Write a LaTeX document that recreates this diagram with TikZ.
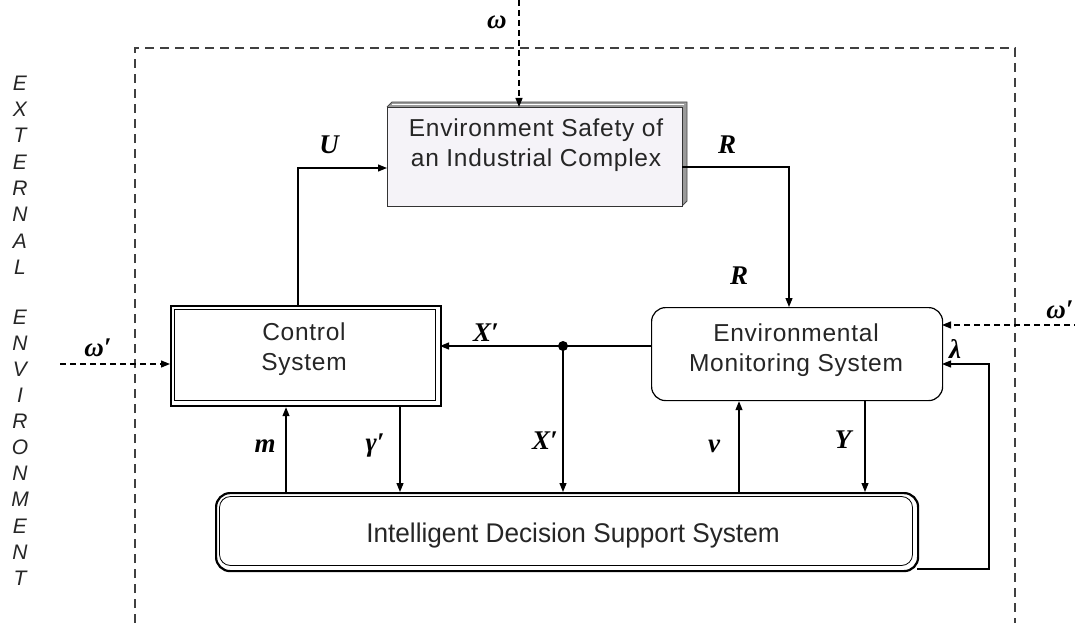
\documentclass[tikz,border=0pt]{standalone}
\usepackage{fontspec}
\setmainfont{Liberation Sans}
\newfontfamily\lblfont{Liberation Serif}
\newfontfamily\boxfont[LetterSpace=3]{Liberation Sans}
\usetikzlibrary{arrows.meta,calc}
\definecolor{boxfill}{HTML}{F5F3F8}
\definecolor{sidegray}{HTML}{9A9A9A}
\tikzset{
  conn/.style={line width=1.2pt,-{Triangle[length=9pt,width=7pt]}},
  dconn/.style={line width=1.2pt,dash pattern=on 6pt off 4pt,-{Triangle[length=9pt,width=7pt]}},
  frame/.style={line width=1.2pt,dash pattern=on 9pt off 6pt,draw=black!75},
  lbl/.style={font=\lblfont\bfseries\itshape\fontsize{27}{27}\selectfont,inner sep=0pt},
  boxtext/.style={font=\boxfont\fontsize{24.5}{29.5}\selectfont,align=center,text=black!85},
  envletter/.style={font=\itshape\fontsize{21}{21}\selectfont,text=black!85,inner sep=0pt}
}
\begin{document}
\begin{tikzpicture}[x=1pt,y=-1pt]
\useasboundingbox (0,0) rectangle (1075,623);
\fill[white] (0,0) rectangle (1075,623);
% outer dashed frame
\draw[frame] (135,623) -- (135,48) -- (1015,48) -- (1015,623);
% left vertical text
\foreach \ch [count=\i from 0] in {E,X,T,E,R,N,A,L} {
  \node[envletter] (ea\i) at (20,{83+\i*26.3}) {\ch};
}
\foreach \ch [count=\i from 0] in {E,N,V,I,R,O,N,M,E,N,T} {
  \node[envletter] (eb\i) at (20,{317+\i*26.1}) {\ch};
}
% ESIC 3D box
\fill[sidegray] (682,107) -- (687,102) -- (687,201) -- (682,206) -- cycle;
\fill[black!40] (387,107) -- (392,102) -- (687,102) -- (682,107) -- cycle;
\draw[line width=0.8pt,black!70] (387,107) -- (392,102) -- (687,102) -- (687,201) -- (682,206);
\draw[line width=0.6pt,white] (392,104.5) -- (684,104.5);
\node[draw=black!80,line width=1.4pt,fill=boxfill,minimum width=295pt,minimum height=99pt,anchor=north west,inner sep=0pt] (esic) at (387,107) {};
\node[boxtext] at (536,145) {Environment Safety of\\an Industrial Complex};
% Control system (double border)
\node[draw,line width=2.2pt,minimum width=270pt,minimum height=100pt,anchor=north west,inner sep=0pt] (cs) at (170,305) {};
\draw[line width=0.8pt] (174.5,309.5) rectangle (435.5,400.5);
\node[boxtext] at (304,349) {Control\\System};
% EMS rounded
\node[draw,line width=1.2pt,rounded corners=14pt,minimum width=291pt,minimum height=93pt,anchor=north west,inner sep=0pt] (ems) at (651,307) {};
\node[boxtext] at (796,350) {Environmental\\Monitoring System};
% IDSS double rounded
\node[draw,line width=2.2pt,rounded corners=14pt,minimum width=702pt,minimum height=78pt,anchor=north west,inner sep=0pt] (idss) at (215,492) {};
\draw[line width=0.8pt,rounded corners=11pt] (219.5,496.5) rectangle (912.5,565.5);
\node[font=\fontsize{27}{30}\selectfont,text=black!85] at (573,536) {\scalebox{0.97}[1]{Intelligent Decision Support System}};
% coordinates
\coordinate (wtop) at (519,0);
\coordinate (cstop) at (298,305);
\coordinate (uc) at (298,168);
\coordinate (esicl) at (387,168);
\coordinate (esicr) at (682,167);
\coordinate (rc) at (789,167);
\coordinate (emstop) at (789,307);
\coordinate (wr) at (1080,325);
\coordinate (emsr1) at (942,325);
\coordinate (idssr) at (917,569);
\coordinate (lc1) at (989,569);
\coordinate (lc2) at (989,364);
\coordinate (emsr2) at (942,364);
\coordinate (emsl) at (651,346);
\coordinate (csr) at (440,346);
\coordinate (dot) at (563,346);
\coordinate (idssx) at (563,492);
\coordinate (wl) at (60,364);
\coordinate (csl) at (170,364);
% connectors
\draw[dconn] (wtop) -- (esic.north -| wtop);
\draw[conn] (cstop) -- (uc) -- (esicl);
\draw[conn] (esicr) -- (rc) -- (emstop);
\draw[dconn] (wr) -- (emsr1);
\draw[conn] (idssr) -- (lc1) -- (lc2) -- (emsr2);
\draw[conn] (emsl) -- (csr);
\fill (dot) circle (5pt);
\draw[conn] (dot) -- (idssx);
\draw[dconn] (wl) -- (csl);
\draw[conn] (idss.north -| 286,0) -- (cs.south -| 286,0);
\draw[conn] (cs.south -| 400,0) -- (idss.north -| 400,0);
\draw[conn] (idss.north -| 739,0) -- (ems.south -| 739,0);
\draw[conn] (ems.south -| 865,0) -- (idss.north -| 865,0);
% labels
\node[lbl] (lw) at (497,22) {ω};
\node[lbl] (lu) at (329,145) {U};
\node[lbl] (lr1) at (727,145) {R};
\node[lbl] (lr2) at (739,276) {R};
\node[lbl] (lwr) at (1060,310) {ω′};
\node[lbl] (llam) at (955,349) {λ};
\node[lbl] (lx1) at (486,333) {X′};
\node[lbl] (lwl) at (98,348) {ω′};
\node[lbl] (lm) at (265,446) {m};
\node[lbl] (lg) at (375,446) {γ′};
\node[lbl] (lx2) at (545,441) {X′};
\node[lbl] (lv) at (714,446) {v};
\node[lbl] (ly) at (843,440) {Y};
\end{tikzpicture}
\end{document}
